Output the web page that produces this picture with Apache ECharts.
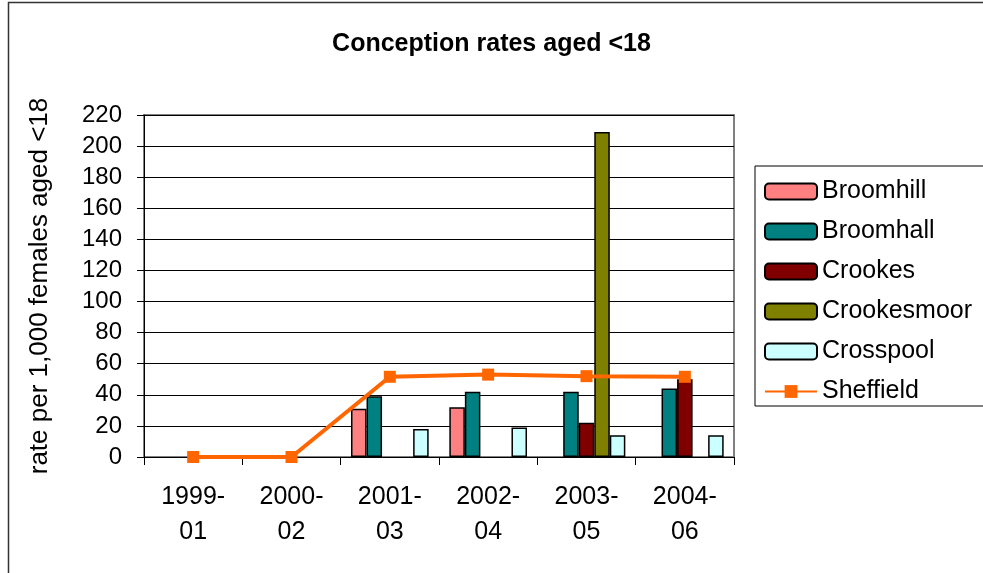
<!DOCTYPE html>
<html>
<head>
<meta charset="utf-8">
<script src="https://cdn.jsdelivr.net/npm/echarts@6/dist/echarts.min.js"></script>
<style>
html,body{margin:0;padding:0;background:#fff;}
#chart{width:983px;height:573px;}
</style>
</head>
<body>
<div id="chart"></div>
<script>
const categories = ['1999-\n01', '2000-\n02', '2001-\n03', '2002-\n04', '2003-\n05', '2004-\n06'];
const broomhill   = [null, null, 31, 32, null, null];
const broomhall   = [null, null, 39, 42, 42, 44];
const crookes     = [null, null, null, null, 22, 50];
const crookesmoor = [null, null, null, null, 209, null];
const crosspool   = [null, null, 18, 19, 14, 14];
const sheffield   = [0, 0, 51.6, 53, 52, 51.6];
const yTicks = [0, 20, 40, 60, 80, 100, 120, 140, 160, 180, 200, 220];

const FONT = '"Liberation Sans", Arial, sans-serif';
const chart = echarts.init(document.getElementById('chart'));

function barSeries(name, data, color) {
  return {
    name: name, type: 'bar', data: data,
    barGap: '0%', barCategoryGap: '21%',
    itemStyle: { color: color, borderColor: '#000', borderWidth: 1.5 },
    animation: false
  };
}

chart.setOption({
  animation: false,
  backgroundColor: '#fff',
  textStyle: { fontFamily: FONT },
  graphic: [{
    type: 'rect', silent: true, z: -10,
    shape: { x: 8.5, y: 2.5, width: 1100, height: 700 },
    style: { fill: 'none', stroke: '#333', lineWidth: 1.5 }
  }],
  title: {
    text: 'Conception rates aged <18',
    left: 'center', top: 27,
    textStyle: { fontFamily: FONT, fontSize: 25, fontWeight: 'bold', color: '#000' }
  },
  legend: {
    orient: 'vertical', left: 755, top: 166,
    padding: [13, 12, 2, 9],
    borderColor: '#000', borderWidth: 1,
    itemWidth: 52, itemHeight: 16, itemGap: 15, itemTextGap: 12,
    textStyle: { fontFamily: FONT, fontSize: 25, lineHeight: 25, color: '#000' },
    data: ['Broomhill', 'Broomhall', 'Crookes', 'Crookesmoor', 'Crosspool', 'Sheffield']
  },
  grid: {
    left: 144, right: 249, top: 115, bottom: 116,
    show: true, borderColor: '#808080', borderWidth: 2,
    containLabel: false
  },
  xAxis: {
    type: 'category', data: categories,
    axisLine: { lineStyle: { color: '#000', width: 1 } },
    axisTick: { show: true, length: 8, lineStyle: { color: '#000' } },
    axisLabel: { fontFamily: FONT, fontSize: 25, lineHeight: 35, color: '#000', margin: 23, interval: 0 },
    splitLine: { show: false }
  },
  yAxis: {
    type: 'value', min: 0, max: 220, interval: 20,
    name: 'rate per 1,000 females aged <18',
    nameLocation: 'middle', nameGap: 91,
    nameTextStyle: { fontFamily: FONT, fontSize: 26, color: '#000' },
    axisLine: { show: true, lineStyle: { color: '#000', width: 1 } },
    axisTick: { show: true, length: 7, lineStyle: { color: '#000' } },
    axisLabel: { fontFamily: FONT, fontSize: 24, color: '#000', margin: 22,
      formatter: function (v) { return yTicks.indexOf(v) >= 0 ? String(v) : ''; } },
    splitLine: { show: true, lineStyle: { color: '#000', width: 1 } }
  },
  series: [
    barSeries('Broomhill', broomhill, '#FF8080'),
    barSeries('Broomhall', broomhall, '#008080'),
    barSeries('Crookes', crookes, '#800000'),
    barSeries('Crookesmoor', crookesmoor, '#808000'),
    barSeries('Crosspool', crosspool, '#CCFFFF'),
    {
      name: 'Sheffield', type: 'line', data: sheffield,
      symbol: 'rect', symbolSize: 12, z: 5,
      lineStyle: { color: '#FF6600', width: 4 },
      itemStyle: { color: '#FF6600' },
      animation: false
    }
  ]
});
</script>
</body>
</html>
